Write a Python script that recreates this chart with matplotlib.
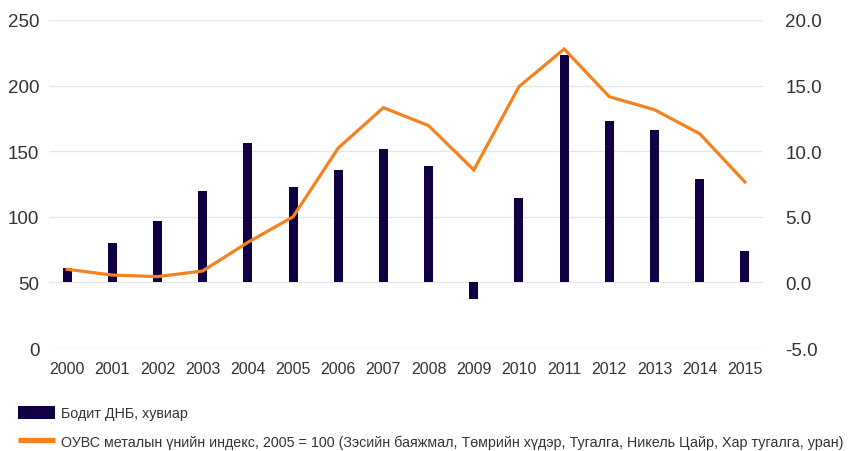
import matplotlib
matplotlib.use("Agg")
import matplotlib.pyplot as plt
from matplotlib.lines import Line2D
from matplotlib.patches import Patch

years = ["2000", "2001", "2002", "2003", "2004", "2005", "2006", "2007",
         "2008", "2009", "2010", "2011", "2012", "2013", "2014", "2015"]
gdp_growth = [1.1, 3.0, 4.7, 7.0, 10.6, 7.3, 8.6, 10.2, 8.9, -1.3, 6.4, 17.3, 12.3, 11.6, 7.9, 2.4]
metal_index = [60, 55.6, 54.4, 58.7, 80.5, 100, 152.4, 183.2, 169.5, 135.7, 199.2, 227.9,
               191.5, 181.6, 163.3, 126.5]
left_ticks = [0, 50, 100, 150, 200, 250]
right_ticks = [-5, 0, 5, 10, 15, 20]
label_gdp = "Бодит ДНБ, хувиар"
label_idx = "ОУВС металын үнийн индекс, 2005 = 100 (Зэсийн баяжмал, Төмрийн хүдэр, Тугалга, Никель Цайр, Хар тугалга, уран)"

plt.rcParams['font.family'] = ['Liberation Sans', 'DejaVu Sans']
navy = "#100043"
orange = "#F5821F"
txt = "#333333"

fig = plt.figure(figsize=(8.51, 4.52), dpi=100)
ax = fig.add_axes([49/851, 1-349/452, (763-49)/851, (349-21)/452])
ax2 = ax.twinx()

x = list(range(len(years)))
ax2.bar(x, gdp_growth, width=0.2, color=navy, zorder=2)
ax.plot(x, metal_index, color=orange, lw=2.3, zorder=3, solid_joinstyle='miter')

ax.set_ylim(0, 250)
ax2.set_ylim(-5, 20)
ax.set_xlim(-0.4, 15.4)
ax.set_yticks(left_ticks)
ax.set_yticklabels([str(v) for v in left_ticks])
ax2.set_yticks(right_ticks)
ax2.set_yticklabels([f"{v:.1f}" for v in right_ticks])
ax.set_xticks(x)
ax.set_xticklabels(years)

ax2.grid(axis='y', color='#e6e6e6', lw=1.0, zorder=0)
ax2.set_axisbelow(True)
ax.set_zorder(ax2.get_zorder() + 1)
ax.patch.set_visible(False)

for a in (ax, ax2):
    for s in a.spines.values():
        s.set_visible(False)
    a.tick_params(length=0, colors=txt)
ax.tick_params(axis='y', labelsize=13.5, pad=7)
ax2.tick_params(axis='y', labelsize=13.5, pad=16)
ax.tick_params(axis='x', labelsize=11.5, pad=9)

handles = [Patch(facecolor=navy, edgecolor='none'),
           Line2D([0], [0], color=orange, lw=3.8, solid_capstyle='butt')]
fig.legend(handles, [label_gdp, label_idx], loc='upper left',
           bbox_to_anchor=(12/851, 1-401/452), frameon=False, fontsize=10.3,
           handlelength=2.6, handleheight=1.1, labelspacing=0.95,
           handletextpad=0.45, labelcolor=txt, borderaxespad=0)

fig.savefig("out.png", dpi=100)
